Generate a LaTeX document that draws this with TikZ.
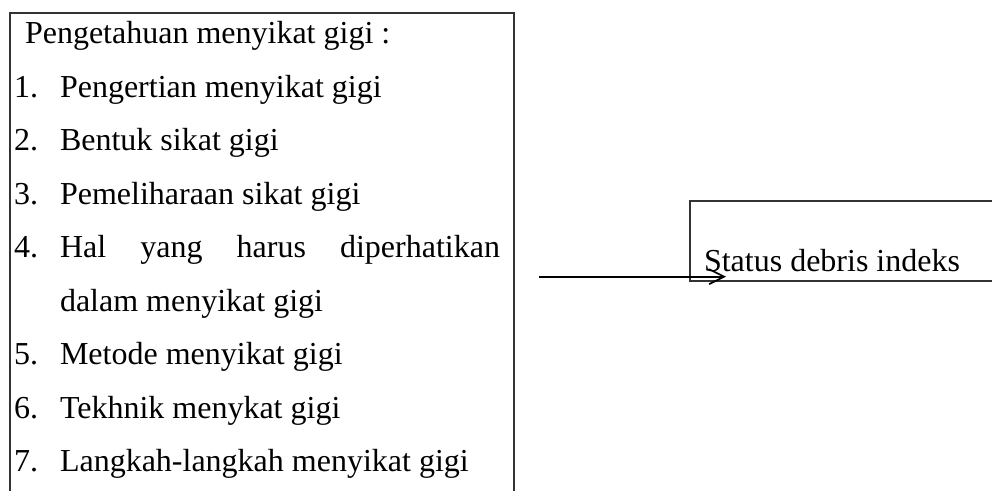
\documentclass[tikz,border=0pt]{standalone}
\usepackage{fontspec}
\setmainfont{Liberation Serif}
\usetikzlibrary{arrows.meta}
\begin{document}
\begin{tikzpicture}[x=1pt,y=-1pt,
  boxline/.style={draw=black!80,line width=1.8pt},
  txt/.style={anchor=base west,inner sep=0pt,outer sep=0pt,font=\fontsize{32}{40}\selectfont},
  conn/.style={draw=black,line width=1.9pt,-{Straight Barb[length=15pt,width=15pt,line width=1.7pt]}}]
\useasboundingbox[fill=white] (0,0) rectangle (992,490);
% boxes
\node[boxline,rectangle,minimum width=503.7pt,minimum height=500pt,anchor=north west,inner sep=0pt] (know) at (9,11.7) {};
\node[boxline,rectangle,minimum width=330pt,minimum height=80pt,anchor=north west,inner sep=0pt] (status) at (689,200) {};
% texts in left box
\node[txt] (head) at (25,43) {Pengetahuan menyikat gigi :};
\node[txt] (n1) at (14,97) {1.};
\node[txt] (t1) at (60,97) {Pengertian menyikat gigi};
\node[txt] (n2) at (14,150.5) {2.};
\node[txt] (t2) at (60,150.5) {Bentuk sikat gigi};
\node[txt] (n3) at (14,204) {3.};
\node[txt] (t3) at (60,204) {Pemeliharaan sikat gigi};
\node[txt] (n4) at (14,257.5) {4.};
\node[txt] (t4) at (60,257.5) {\hbox to 440pt{Hal\hfil yang\hfil harus\hfil diperhatikan}};
\node[txt] (t4b) at (60,311) {dalam menyikat gigi};
\node[txt] (n5) at (14,364.5) {5.};
\node[txt] (t5) at (60,364.5) {Metode menyikat gigi};
\node[txt] (n6) at (14,418) {6.};
\node[txt] (t6) at (60,418) {Tekhnik menykat gigi};
\node[txt] (n7) at (14,471.5) {7.};
\node[txt] (t7) at (60,471.5) {Langkah-langkah menyikat gigi};
% right text
\node[txt] (stxt) at (704,271.7) {Status debris indeks};
% connector
\coordinate (arrS) at (539,276.7);
\coordinate (arrE) at (726,276.7);
\draw[conn] (arrS) -- (arrE);
\end{tikzpicture}
\end{document}
